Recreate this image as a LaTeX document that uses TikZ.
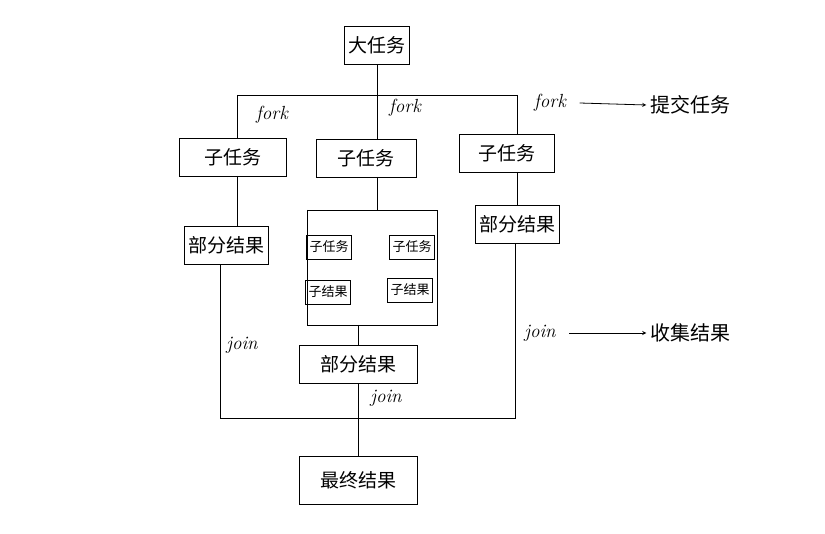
\documentclass[tikz,border=0pt]{standalone}
\usepackage{fontspec}
\newfontfamily\cjk{Noto Sans CJK SC}
\usetikzlibrary{arrows,positioning}
\tikzset{
  task/.style={draw,thick,font=\cjk\fontsize{19}{22}\selectfont,inner sep=4pt,minimum height=38pt},
  small/.style={draw,thick,font=\cjk\fontsize{13}{15}\selectfont,inner sep=3pt,minimum height=24pt},
  lbl/.style={font=\itshape\fontsize{19}{22}\selectfont},
  note/.style={font=\cjk\fontsize{20}{24}\selectfont}
}
\begin{document}
\begin{tikzpicture}[x=1pt,y=-1pt,thick]
	\useasboundingbox (0,0) rectangle (825,534);
	
	% boxes
	\node[task] (big) at (377,45) {大任务};
	\node[task,minimum width=107pt] (subL) at (233,157) {子任务};
	\node[task,minimum width=100pt] (subM) at (366,158) {子任务};
	\node[task,minimum width=95pt] (subR) at (507,153) {子任务};
	\node[task] (partL) at (226,245) {部分结果};
	\node[task] (partR) at (517,224) {部分结果};
	\node[small] (s1) at (329,247) {子任务};
	\node[small] (s2) at (412,247) {子任务};
	\node[small] (r1) at (328,292) {子结果};
	\node[small] (r2) at (410,290) {子结果};
	\node[task,minimum width=118pt] (partM) at (358,364) {部分结果};
	\node[task,minimum width=118pt,minimum height=48pt] (final) at (358,480) {最终结果};
	
	% fork
	\coordinate (fl) at (237,95);
	\coordinate (fr) at (517,95);
	\draw (big.south) -- (377,95);
	\draw (fl) -- (fr);
	\draw (fl) -- (237,138) (377,95) -- (377,139) (fr) -- (517,134);
	\node[lbl] (f1) at (272,115) {fork};
	\node[lbl] (f2) at (405,108) {fork};
	\node[lbl] (f3) at (550,103) {fork};
	\node[note] (submit) at (690,105) {提交任务};
	\draw[->,>=stealth] (f3.east) ++(10,0) -- (submit.west);
	
	% sub tasks
	\draw (237,176) -- (237,226);
	\draw (517,172) -- (517,205);
	\draw (377,177) -- (377,210);
	\draw (307,210) -- (437,210);
	\draw (307,210) -- (307,325) -- (437,325) -- (437,210);
	\draw (358,325) -- (partM.north);
	
	% join
	\draw (220,265) -- (220,418) -- (515,418) -- (515,243);
	\draw (partM.south) -- (final.north);
	\node[lbl] (j1) at (242,345) {join};
	\node[lbl] (j2) at (386,398) {join};
	\node[lbl] (j3) at (540,333) {join};
	\node[note] (collect) at (690,333) {收集结果};
	\draw[->,>=stealth] (j3.east) ++(10,0) -- (collect.west);
\end{tikzpicture}
\end{document}
